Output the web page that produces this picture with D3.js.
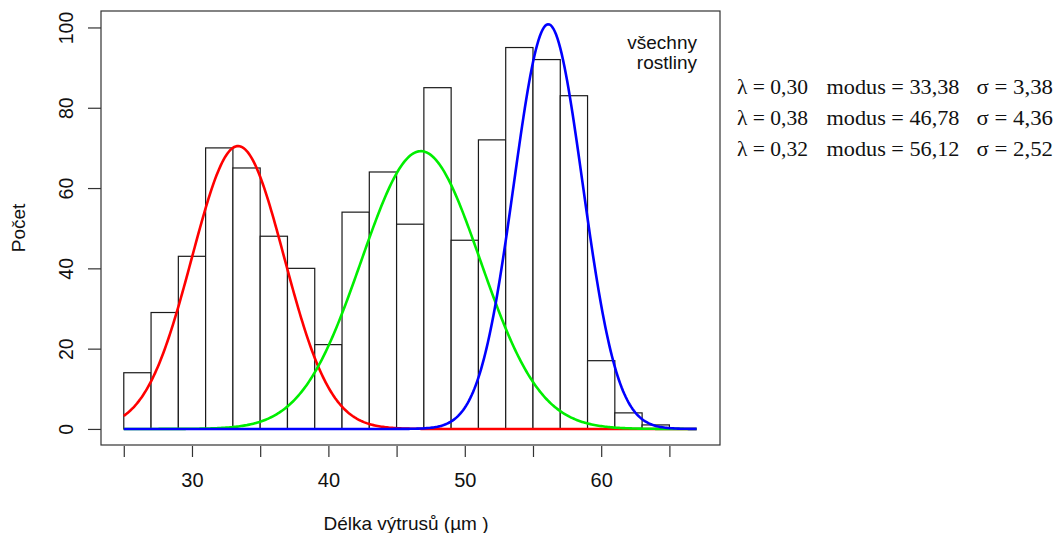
<!DOCTYPE html>
<html>
<head>
<meta charset="utf-8">
<script src="https://cdn.jsdelivr.net/npm/d3@7"></script>
<style>
  html, body { margin: 0; padding: 0; background: #fff; }
  svg { display: block; }
</style>
</head>
<body>
<svg id="chart" width="1058" height="533"></svg>
<script>
// ---- data ----
const binStarts = [25, 27, 29, 31, 33, 35, 37, 39, 41, 43, 45, 47, 49, 51, 53, 55, 57, 59, 61, 63];
const binWidth = 2;
const counts = [14, 29, 43, 70, 65, 48, 40, 21, 54, 64, 51, 85, 47, 72, 95, 92, 83, 17, 4, 1];
const lambdas = [0.30, 0.38, 0.32];
const modes = [33.38, 46.78, 56.12];
const sigmas = [3.38, 4.36, 2.52];
const curveColors = ["#ff0000", "#00ee00", "#0000ff"];
const curveRange = [25, 67];
const xTicks = [25, 30, 35, 40, 45, 50, 55, 60, 65];
const xTickLabels = [30, 40, 50, 60];
const yTicks = [0, 20, 40, 60, 80, 100];
const xTitle = "Délka výtrusů (µm )";
const yTitle = "Počet";
const annotation = ["všechny", "rostliny"];

// ---- layout ----
const svg = d3.select("#chart");
const L = 101, R = 720, T = 11, B = 445;
const x = d3.scaleLinear().domain([23.33, 68.71]).range([L, R]);
const y = d3.scaleLinear().domain([-4, 104.1]).range([B, T]);
const sans = "'Liberation Sans', Arial, sans-serif";
const serif = "'Liberation Serif', 'Times New Roman', serif";

// bars
svg.append("g").selectAll("rect")
  .data(binStarts.map((s, i) => ({ s, c: counts[i] })))
  .join("rect")
  .attr("x", d => x(d.s))
  .attr("y", d => y(d.c))
  .attr("width", d => x(d.s + binWidth) - x(d.s))
  .attr("height", d => y(0) - y(d.c))
  .attr("fill", "#fff")
  .attr("stroke", "#1a1a1a")
  .attr("stroke-width", 1.2);

// mixture component curves
const N = d3.sum(counts);
const xs = d3.range(curveRange[0], curveRange[1] + 1e-9, 0.1);
const line = d3.line().x(d => x(d[0])).y(d => y(d[1]));
lambdas.forEach((lam, k) => {
  const mu = modes[k], sd = sigmas[k];
  const pts = xs.map(v => [v, lam * N * binWidth * Math.exp(-0.5 * ((v - mu) / sd) ** 2) / (sd * Math.sqrt(2 * Math.PI))]);
  svg.append("path").datum(pts)
    .attr("d", line)
    .attr("fill", "none")
    .attr("stroke", curveColors[k])
    .attr("stroke-width", 2.6);
});

// box
svg.append("rect").attr("x", L).attr("y", T).attr("width", R - L).attr("height", B - T)
  .attr("fill", "none").attr("stroke", "#333").attr("stroke-width", 1.2);

// x axis
const xAxis = d3.axisBottom(x).tickValues(xTicks)
  .tickSize(11).tickPadding(16)
  .tickFormat(d => xTickLabels.includes(d) ? d : "");
const gx = svg.append("g").attr("transform", `translate(0,${B + 1})`).call(xAxis);
gx.select(".domain").remove();
gx.selectAll("line").attr("stroke", "#333").attr("stroke-width", 1.2);
gx.selectAll("text").attr("font-family", sans).attr("font-size", 20).attr("fill", "#111");

// y axis
const yAxis = d3.axisLeft(y).tickValues(yTicks).tickSize(13).tickPadding(15);
const gy = svg.append("g").attr("transform", `translate(${L},0)`).call(yAxis);
gy.select(".domain").remove();
gy.selectAll("line").attr("stroke", "#333").attr("stroke-width", 1.2);
gy.selectAll("text")
  .attr("font-family", sans).attr("font-size", 19.5).attr("fill", "#111")
  .attr("x", null).attr("dy", null)
  .attr("text-anchor", "middle")
  .attr("transform", "translate(-28,0) rotate(-90)");

// axis titles
svg.append("text").attr("x", 406).attr("y", 530)
  .attr("text-anchor", "middle").attr("font-family", sans).attr("font-size", 19).attr("fill", "#111")
  .text(xTitle);
svg.append("text").attr("transform", `translate(25,${(T + B) / 2}) rotate(-90)`)
  .attr("text-anchor", "middle").attr("font-family", sans).attr("font-size", 19).attr("fill", "#111")
  .text(yTitle);

// annotation
annotation.forEach((t, i) => {
  svg.append("text").attr("x", 697).attr("y", 49 + i * 20)
    .attr("text-anchor", "end").attr("font-family", sans).attr("font-size", 19).attr("fill", "#111")
    .text(t);
});

// parameter text (right side)
const fmt = d3.format(".2f");
const comma = v => fmt(v).replace(".", ",");
const segX = [737, 826.5, 976.5];
const segW = [71, 133, 76.5];
lambdas.forEach((lam, k) => {
  const segs = ["λ = " + comma(lam), "modus = " + comma(modes[k]), "σ = " + comma(sigmas[k])];
  const by = 94 + k * 31;
  segs.forEach((s, j) => {
    svg.append("text").attr("x", segX[j]).attr("y", by)
      .attr("font-family", serif).attr("font-size", 21).attr("fill", "#111")
      .attr("textLength", segW[j]).attr("lengthAdjust", "spacingAndGlyphs")
      .text(s);
  });
});
</script>
</body>
</html>
